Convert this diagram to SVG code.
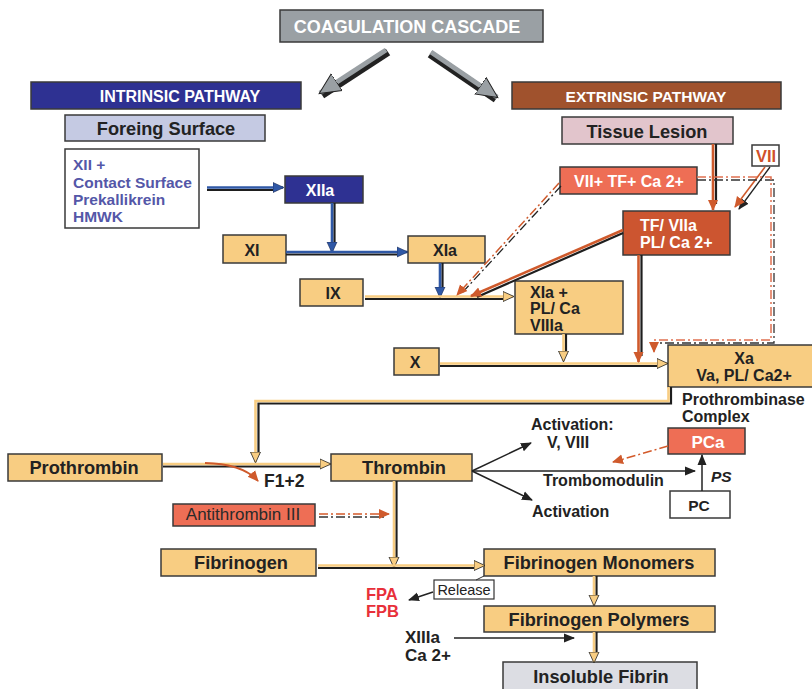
<svg xmlns="http://www.w3.org/2000/svg" width="812" height="689" viewBox="0 0 812 689">
<style>
text{font-family:"Liberation Sans",Arial,sans-serif;font-weight:bold;fill:#222}
.box{stroke:#3a3a3a;stroke-width:1.5}
.yel{fill:#f8cd82}
.t18{font-size:18.2px}
.t16{font-size:16px}
.t15{font-size:15.5px}
.w{fill:#fff}
.sh{fill:none;stroke:#1e1e1e;stroke-width:2.2}
.cy{fill:none;stroke:#f8cd82;stroke-width:2.6}
.cb{fill:none;stroke:#2f58a6;stroke-width:2.6}
.co{fill:none;stroke:#cf5a2c;stroke-width:2.6}
.thin{fill:none;stroke:#222;stroke-width:1.5}
.dd{stroke-dasharray:9 3 2 3}
</style>
<defs>
<marker id="ay" markerUnits="userSpaceOnUse" markerWidth="12" markerHeight="12" refX="10" refY="6" orient="auto"><path d="M0,1 L11,6 L0,11 Z" fill="#f8cd82" stroke="#222" stroke-width="0.8"/></marker>
<marker id="ab" markerUnits="userSpaceOnUse" markerWidth="12" markerHeight="12" refX="10" refY="6" orient="auto"><path d="M0,1 L11,6 L0,11 Z" fill="#2f58a6" stroke="#1a2a55" stroke-width="0.6"/></marker>
<marker id="ao" markerUnits="userSpaceOnUse" markerWidth="12" markerHeight="12" refX="10" refY="6" orient="auto"><path d="M0,1 L11,6 L0,11 Z" fill="#cf5a2c"/></marker>
<marker id="ak" markerUnits="userSpaceOnUse" markerWidth="12" markerHeight="12" refX="10" refY="6" orient="auto"><path d="M0,1.5 L11,6 L0,10.5 Z" fill="#222"/></marker>
<marker id="ag" markerUnits="userSpaceOnUse" markerWidth="24" markerHeight="24" refX="20" refY="12" orient="auto"><path d="M0,2 L21,12 L0,22 Z" fill="#9aa0a4" stroke="#222" stroke-width="1"/></marker>
</defs>

<!-- nodes -->
<g id="title"><rect class="box" x="280" y="10" width="263" height="32" fill="#9aa0a4"/><text x="407" y="33" text-anchor="middle" class="w" style="font-size:18px">COAGULATION CASCADE</text></g>
<g id="intrinsic"><rect class="box" x="31" y="82" width="270" height="27" fill="#2e3192"/><text x="180" y="102" text-anchor="middle" class="t16 w">INTRINSIC PATHWAY</text></g>
<g id="extrinsic"><rect class="box" x="512" y="82" width="269" height="27" fill="#a0522d"/><text x="646" y="102" text-anchor="middle" class="w" style="font-size:15.5px">EXTRINSIC PATHWAY</text></g>
<g id="foreing"><rect class="box" x="65" y="115" width="200" height="26" fill="#c5cae3"/><text x="166" y="135" text-anchor="middle" class="t18">Foreing Surface</text></g>
<g id="tissue"><rect class="box" x="562" y="117" width="171" height="27" fill="#e2c5cc"/><text x="647" y="138" text-anchor="middle" class="t18">Tissue Lesion</text></g>
<g id="xii"><rect class="box" x="65" y="149" width="134" height="79" fill="#fff"/>
<text class="t15" style="fill:#5457a8"><tspan x="73" y="170">XII +</tspan><tspan x="73" y="188">Contact Surface</tspan><tspan x="73" y="205">Prekallikrein</tspan><tspan x="73" y="222">HMWK</tspan></text></g>
<g id="xiia"><rect class="box" x="285" y="176" width="78" height="27" fill="#2e3192"/><text x="320" y="196" text-anchor="middle" class="t16 w">XIIa</text></g>
<g id="xi"><rect class="box yel" x="223" y="235" width="63" height="28"/><text x="252" y="256" text-anchor="middle" class="t16">XI</text></g>
<g id="xia"><rect class="box yel" x="408" y="236" width="77" height="27"/><text x="445" y="256" text-anchor="middle" class="t16">XIa</text></g>
<g id="ix"><rect class="box yel" x="300" y="279" width="63" height="27"/><text x="333" y="299" text-anchor="middle" class="t16">IX</text></g>
<g id="xiaplus"><rect class="box yel" x="515" y="281" width="108" height="53"/>
<text class="t16"><tspan x="530" y="298">XIa +</tspan><tspan x="530" y="314">PL/ Ca</tspan><tspan x="530" y="331">VIIIa</tspan></text></g>
<g id="x"><rect class="box yel" x="394" y="348" width="45" height="27"/><text x="415" y="368" text-anchor="middle" class="t16">X</text></g>
<g id="vii"><rect class="box" x="752" y="145" width="27" height="21" fill="#fff"/><text x="766" y="162" text-anchor="middle" style="font-size:16.5px;fill:#d0502a">VII</text></g>
<g id="viitf"><rect class="box" x="560" y="167" width="137" height="27" fill="#ee6e55"/><text x="629" y="187" text-anchor="middle" class="t16 w">VII+ TF+ Ca 2+</text></g>
<g id="tfviia"><rect class="box" x="623" y="211" width="107" height="44" fill="#cc5530"/>
<text class="t16 w"><tspan x="640" y="231">TF/ VIIa</tspan><tspan x="640" y="248">PL/ Ca 2+</tspan></text></g>
<g id="xa"><rect class="box yel" x="668" y="345" width="146" height="42"/>
<text class="t16" text-anchor="middle"><tspan x="744" y="364">Xa</tspan><tspan x="744" y="381">Va, PL/ Ca2+</tspan></text>
<text class="t16"><tspan x="682" y="405">Prothrombinase</tspan><tspan x="682" y="422">Complex</tspan></text></g>
<g id="prothrombin"><rect class="box yel" x="8" y="454" width="154" height="27"/><text x="84" y="474" text-anchor="middle" class="t18">Prothrombin</text></g>
<g id="f12"><text x="264" y="487" style="font-size:17.5px">F1+2</text></g>
<g id="thrombin"><rect class="box yel" x="331" y="454" width="141" height="27"/><text x="404" y="474" text-anchor="middle" class="t18">Thrombin</text></g>
<g id="act1"><text class="t16"><tspan x="531" y="430">Activation:</tspan><tspan x="547" y="448">V, VIII</tspan></text></g>
<g id="trombomodulin"><text x="543" y="486" class="t16">Trombomodulin</text></g>
<g id="act2"><text x="532" y="517" class="t16">Activation</text></g>
<g id="pca"><rect class="box" x="668" y="428" width="77" height="26" fill="#ee6e55"/><text x="708" y="448" text-anchor="middle" class="w" style="font-size:17px">PCa</text></g>
<g id="ps"><text x="711" y="482" class="t15" style="font-style:italic">PS</text></g>
<g id="pc"><rect class="box" x="670" y="491" width="60" height="27" fill="#fff"/><text x="699" y="511" text-anchor="middle" class="t15">PC</text></g>
<g id="antithrombin"><rect class="box" x="173" y="504" width="142" height="22" fill="#ee6e55"/><text x="243" y="520" text-anchor="middle" style="font-size:17px;font-weight:normal;fill:#2a2a2a">Antithrombin III</text></g>
<g id="fibrinogen"><rect class="box yel" x="161" y="549" width="155" height="27"/><text x="241" y="569" text-anchor="middle" class="t18">Fibrinogen</text></g>
<g id="monomers"><rect class="box yel" x="484" y="549" width="231" height="27"/><text x="599" y="569" text-anchor="middle" class="t18">Fibrinogen Monomers</text></g>
<g id="release"><rect x="434" y="580" width="60" height="19" fill="#fff" stroke="#333" stroke-width="1.2"/><text x="464" y="595" text-anchor="middle" style="font-size:14.5px;font-weight:normal">Release</text></g>
<g id="fpa"><text style="font-size:16.5px;fill:#e8303a"><tspan x="366" y="600">FPA</tspan><tspan x="366" y="617">FPB</tspan></text></g>
<g id="polymers"><rect class="box yel" x="484" y="606" width="231" height="26"/><text x="599" y="626" text-anchor="middle" class="t18">Fibrinogen Polymers</text></g>
<g id="xiiia"><text style="font-size:17px"><tspan x="405" y="643">XIIIa</tspan><tspan x="405" y="661">Ca 2+</tspan></text></g>
<g id="insoluble"><rect class="box" x="503" y="662" width="194" height="30" fill="#dcdde3"/><text x="601" y="683" text-anchor="middle" class="t18">Insoluble Fibrin</text></g>

<!-- connectors -->
<g id="connectors">
<!-- big gray arrows -->
<line x1="388" y1="52" x2="322" y2="95" stroke="#222" stroke-width="8"/>
<line x1="386" y1="50" x2="320" y2="93" stroke="#9aa0a4" stroke-width="5" marker-end="url(#ag)"/>
<line x1="430" y1="54" x2="496" y2="99" stroke="#222" stroke-width="8"/>
<line x1="431" y1="52" x2="497" y2="97" stroke="#9aa0a4" stroke-width="5" marker-end="url(#ag)"/>

<!-- intrinsic blue -->
<path class="sh" d="M207,190 H277"/><path class="cb" d="M207,187.5 H283" marker-end="url(#ab)"/>
<path class="sh" d="M334.5,203 V245"/><path class="cb" d="M332,203 V252" marker-end="url(#ab)"/>
<path class="sh" d="M286,254.5 H400"/><path class="cb" d="M286,252 H407" marker-end="url(#ab)"/>
<path class="sh" d="M442.5,263 V290"/><path class="cb" d="M440,263 V297" marker-end="url(#ab)"/>

<!-- IX -> XIa+ -->
<path class="sh" d="M365,299 H506"/><path class="cy" d="M365,296.5 H513" marker-end="url(#ay)"/>
<!-- XIa+ down -->
<path class="sh" d="M566,334 V355"/><path class="cy" d="M563.5,334 V361" marker-end="url(#ay)"/>
<!-- X -> Xa -->
<path class="sh" d="M440,366 H660"/><path class="cy" d="M440,363.5 H667" marker-end="url(#ay)"/>

<!-- Tissue lesion -> TF/VIIa -->
<path class="sh" d="M716,144 V204"/><path class="co" d="M713,144 V210" marker-end="url(#ao)"/>
<!-- VII -> TF/VIIa -->
<line x1="770" y1="167" x2="739" y2="209" stroke="#222" stroke-width="1.3" marker-end="url(#ak)"/>
<line x1="765" y1="167" x2="735" y2="207" stroke="#cf5a2c" stroke-width="1.6" marker-end="url(#ao)"/>
<!-- TF/VIIa down to X line -->
<path class="sh" d="M641.5,255 V356"/><path class="co" d="M638.5,255 V362" marker-end="url(#ao)"/>
<!-- TF/VIIa diagonal to IX line -->
<line x1="623" y1="233" x2="477" y2="297" stroke="#1e1e1e" stroke-width="2.2"/>
<line x1="623" y1="230" x2="471" y2="296" stroke="#cf5a2c" stroke-width="2.6" marker-end="url(#ao)"/>
<!-- VII+TF+Ca dashed diagonal -->
<line x1="561" y1="186" x2="461" y2="294" stroke="#222" stroke-width="1.3" class="dd"/>
<line x1="559" y1="183" x2="457" y2="295" stroke="#cf5a2c" stroke-width="1.5" class="dd" marker-end="url(#ao)"/>
<!-- VII+TF+Ca dashed loop to Xa -->
<path d="M697,180 H774 V343 H657" fill="none" stroke="#333" stroke-width="1.3" class="dd"/>
<path d="M697,177 H771 V340 H654 V352" fill="none" stroke="#e07050" stroke-width="1.5" class="dd" marker-end="url(#ao)"/>

<!-- Xa loop to prothrombin line -->
<path class="sh" d="M671,387 V403.5 H258.5 V455"/>
<path class="cy" d="M668.5,387 V401 H255.5 V462" marker-end="url(#ay)"/>
<!-- Prothrombin -> Thrombin -->
<path class="sh" d="M163,466.5 H323"/><path class="cy" d="M163,464 H330" marker-end="url(#ay)"/>
<!-- F1+2 curve -->
<path d="M205,463 Q243,464 258,481" fill="none" stroke="#cf5a2c" stroke-width="1.8" marker-end="url(#ao)"/>
<!-- Thrombin fan -->
<line x1="472" y1="471" x2="531" y2="443" class="thin" marker-end="url(#ak)"/>
<line x1="472" y1="471" x2="695" y2="471" class="thin" marker-end="url(#ak)"/>
<line x1="472" y1="471" x2="532" y2="500" class="thin" marker-end="url(#ak)"/>
<!-- PC -> PCa -->
<line x1="702" y1="491" x2="702" y2="455" class="thin" marker-end="url(#ak)"/>
<!-- PCa -> dashed -->
<line x1="668" y1="446" x2="613" y2="462" stroke="#d35a2a" stroke-width="1.5" class="dd" marker-end="url(#ao)"/>
<!-- Antithrombin -->
<line x1="319" y1="517" x2="384" y2="517" stroke="#333" stroke-width="1.3" class="dd"/>
<line x1="319" y1="514" x2="389" y2="514" stroke="#d35a2a" stroke-width="1.5" class="dd" marker-end="url(#ao)"/>
<!-- Thrombin down -->
<path class="sh" d="M396.5,481 V561"/><path class="cy" d="M394,481 V567" marker-end="url(#ay)"/>
<!-- Fibrinogen -> Monomers -->
<path class="sh" d="M318,568 H477"/><path class="cy" d="M318,565.5 H484" marker-end="url(#ay)"/>
<!-- Monomers -> Release -->
<line x1="484" y1="576" x2="476" y2="580" stroke="#333" stroke-width="1"/>
<line x1="433" y1="592" x2="409" y2="600" stroke="#222" stroke-width="1.5" marker-end="url(#ak)"/>
<!-- Monomers -> Polymers -->
<path class="sh" d="M596.5,576 V598"/><path class="cy" d="M594,576 V605" marker-end="url(#ay)"/>
<!-- Polymers -> Insoluble -->
<path class="sh" d="M596.5,632 V655"/><path class="cy" d="M594,632 V662" marker-end="url(#ay)"/>
<!-- XIIIa arrow -->
<line x1="454" y1="638" x2="574" y2="638" class="thin" marker-end="url(#ak)"/>
</g>
</svg>
